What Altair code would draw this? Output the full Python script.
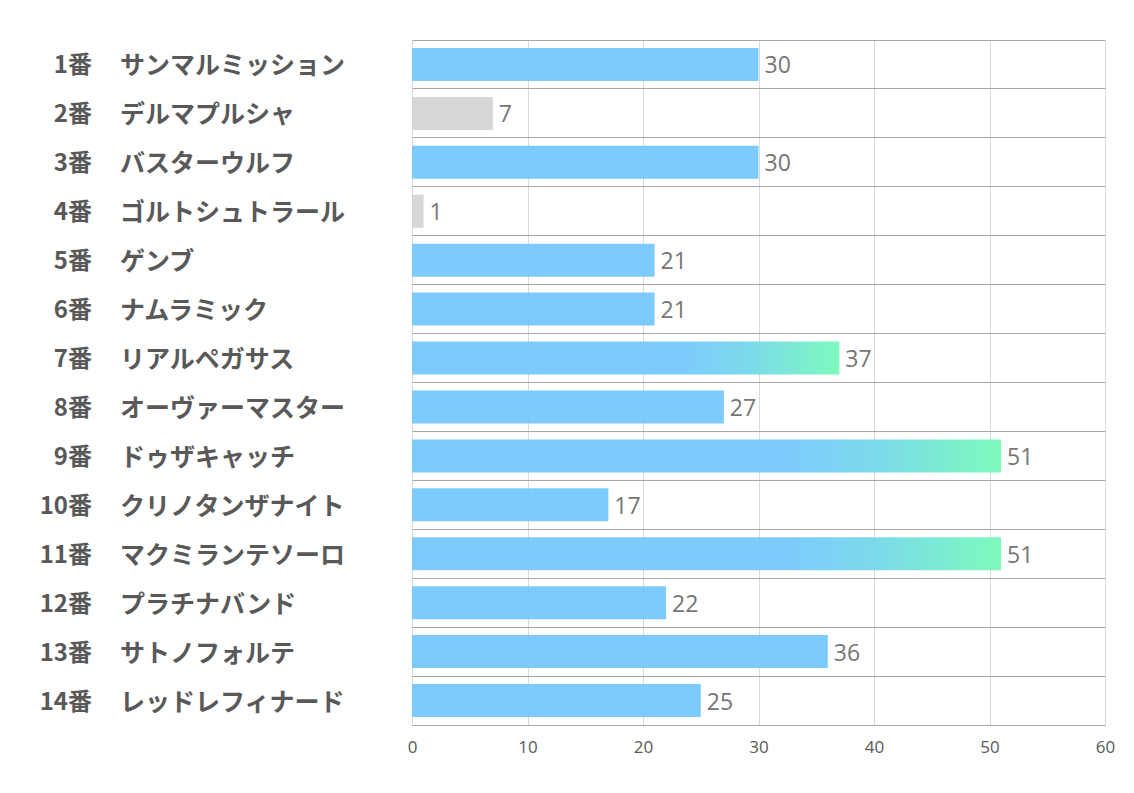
import altair as alt
import pandas as pd

nums = ["1番", "2番", "3番", "4番", "5番", "6番", "7番", "8番", "9番", "10番", "11番", "12番", "13番", "14番"]
names = ["サンマルミッション", "デルマプルシャ", "バスターウルフ", "ゴルトシュトラール", "ゲンブ",
         "ナムラミック", "リアルペガサス", "オーヴァーマスター", "ドゥザキャッチ", "クリノタンザナイト",
         "マクミランテソーロ", "プラチナバンド", "サトノフォルテ", "レッドレフィナード"]
values = [30, 7, 30, 1, 21, 21, 37, 27, 51, 17, 51, 22, 36, 25]
kinds = ["blue", "gray", "blue", "gray", "blue", "blue", "grad", "blue", "grad", "blue", "grad", "blue", "blue", "blue"]
x_ticks = [0, 10, 20, 30, 40, 50, 60]

df = pd.DataFrame({"num": nums, "name": names, "value": values, "kind": kinds})
df["key"] = df["num"]

FONT = "Noto Sans CJK JP"

y_enc = alt.Y("key:N", sort=nums,
              scale=alt.Scale(paddingInner=0, paddingOuter=0),
              axis=alt.Axis(labels=False, ticks=False, domain=False, grid=True,
                            gridColor="#a6a6a6", gridWidth=1, bandPosition=0, title=None))
x_enc = alt.X("value:Q", scale=alt.Scale(domain=[0, 60], nice=False),
              axis=alt.Axis(values=x_ticks, grid=True, gridColor="#d9d9d9", ticks=False,
                            domain=True, domainColor="#a6a6a6", labelColor="#595959",
                            labelFont="Open Sans", labelFontSize=17, labelPadding=14,
                            labelFlush=False, title=None))

base = alt.Chart(df)

plain = base.transform_filter("datum.kind != 'grad'").mark_bar(height={"band": 0.675}, opacity=0.92).encode(
    x=x_enc, y=y_enc,
    color=alt.Color("kind:N", scale=alt.Scale(domain=["blue", "gray"], range=["#72c7fd", "#d4d4d4"]), legend=None),
)

grad = base.transform_filter("datum.kind == 'grad'").mark_bar(
    height={"band": 0.675}, opacity=0.92,
    color=alt.Gradient(gradient="linear", x1=0, x2=1, y1=0, y2=0,
                       stops=[alt.GradientStop(color="#72c7fd", offset=0),
                              alt.GradientStop(color="#72c7fd", offset=0.64),
                              alt.GradientStop(color="#70d8e6", offset=0.8),
                              alt.GradientStop(color="#72fab8", offset=1)])
).encode(x=x_enc, y=y_enc)

vlabels = base.mark_text(align="left", baseline="middle", dx=6, dy=2, font="Open Sans", fontSize=23,
                         color="#767676").encode(x=x_enc, y=y_enc, text="value:Q")

numtext = base.mark_text(align="right", baseline="middle", dy=2, font=FONT, fontSize=24, fontWeight="bold",
                         color="#595959").encode(x=alt.value(-320), y=y_enc, text="num:N")
nametext = base.mark_text(align="left", baseline="middle", dy=2, font=FONT, fontSize=25, fontWeight="bold",
                          color="#595959").encode(x=alt.value(-292), y=y_enc, text="name:N")

chart = alt.layer(plain, grad, vlabels, numtext, nametext).properties(
    width=693, height=685,
    autosize=alt.AutoSizeParams(type="none"),
    padding={"left": 404, "top": 32, "right": 21, "bottom": 60},
).configure_view(stroke=None).configure(background="white")

chart.save("out.html", embed_options={"renderer": "svg", "actions": False})
